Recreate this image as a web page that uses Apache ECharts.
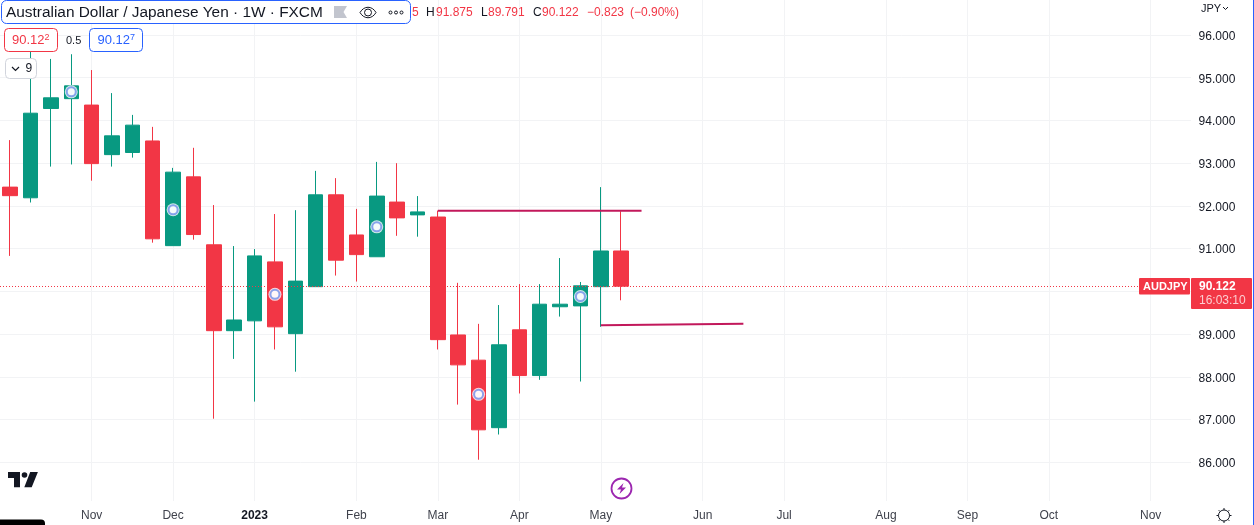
<!DOCTYPE html>
<html>
<head>
<meta charset="utf-8">
<style>
  html, body { margin: 0; padding: 0; background: #fff; }
  #chart { width: 1254px; height: 525px; }
</style>
<script src="https://cdn.jsdelivr.net/npm/echarts@6/dist/echarts.min.js"></script>
</head>
<body>
<div id="chart"></div>
<script>
// weekly bars, the empty weeks on the right are just axis room
const categories = [
  "2022-10-10", "2022-10-17", "2022-10-24", "2022-10-31", "2022-11-07", "2022-11-14", "2022-11-21", "2022-11-28",
  "2022-12-05", "2022-12-12", "2022-12-19", "2022-12-26", "2023-01-02", "2023-01-09", "2023-01-16", "2023-01-23",
  "2023-01-30", "2023-02-06", "2023-02-13", "2023-02-20", "2023-02-27", "2023-03-06", "2023-03-13", "2023-03-20",
  "2023-03-27", "2023-04-03", "2023-04-10", "2023-04-17", "2023-04-24", "2023-05-01", "2023-05-08", "2023-05-15",
  "2023-05-22", "2023-05-29", "2023-06-05", "2023-06-12", "2023-06-19", "2023-06-26", "2023-07-03", "2023-07-10",
  "2023-07-17", "2023-07-24", "2023-07-31", "2023-08-07", "2023-08-14", "2023-08-21", "2023-08-28", "2023-09-04",
  "2023-09-11", "2023-09-18", "2023-09-25", "2023-10-02", "2023-10-09", "2023-10-16", "2023-10-23", "2023-10-30",
  "2023-11-06", "2023-11-13", "2023-11-20"
];
const opens = [92.44, 92.19, 94.28, 94.51, 94.36, 93.20, 93.25, 93.52, 91.07, 92.68, 91.09, 89.08, 89.31, 90.69, 89.01, 90.11,
  92.26, 91.32, 90.81, 92.09, 91.79, 91.74, 88.98, 88.39, 86.81, 89.10, 88.03, 89.64, 89.66, 90.11, 90.945];
const closes = [92.24, 94.17, 94.53, 94.81, 92.99, 93.64, 93.89, 91.23, 92.79, 91.33, 89.08, 89.33, 90.83, 89.17, 90.24, 92.26,
  90.73, 90.86, 92.23, 91.72, 91.86, 88.87, 88.28, 86.76, 88.75, 88.03, 89.70, 89.70, 90.13, 90.945, 90.122];
const lows = [90.83, 92.08, 92.92, 92.97, 92.59, 92.92, 93.13, 91.14, 91.07, 91.21, 87.02, 88.42, 87.42, 88.64, 88.12, 90.11,
  90.37, 90.23, 90.81, 91.30, 91.28, 88.64, 87.35, 86.06, 86.65, 87.61, 87.93, 89.41, 87.89, 89.17, 89.791];
const highs = [93.54, 95.70, 95.44, 95.55, 95.18, 94.64, 94.13, 93.85, 92.89, 93.36, 92.02, 91.06, 90.99, 91.81, 91.90, 92.82,
  92.65, 91.93, 93.03, 93.00, 92.23, 91.89, 90.20, 89.24, 89.68, 90.17, 90.17, 90.78, 90.22, 92.44, 91.875];

const tickDates = ["2022-11-07", "2022-12-05", "2023-01-02", "2023-02-06", "2023-03-06", "2023-04-03", "2023-05-01",
  "2023-06-05", "2023-07-03", "2023-08-07", "2023-09-04", "2023-10-02", "2023-11-06"];
const tickNames = ["Nov", "Dec", "2023", "Feb", "Mar", "Apr", "May", "Jun", "Jul", "Aug", "Sep", "Oct", "Nov"];
const priceTicks = [86, 87, 88, 89, 90, 91, 92, 93, 94, 95, 96];

// blue ring markers sitting on every fifth bar
const ringDates = ["2022-10-31", "2022-12-05", "2023-01-09", "2023-02-13", "2023-03-20", "2023-04-24"];
const ringValues = [94.67, 91.91, 89.93, 91.51, 87.59, 89.88];

// the two hand drawn levels
const upperLevelDates = ["2023-03-06", "2023-05-15"];
const upperLevelValues = [91.888, 91.888];
const lowerLevelDates = ["2023-05-01", "2023-06-19"];
const lowerLevelValues = [89.21, 89.24];

const lastPrice = 90.122;

const GREEN = "#089981";
const RED = "#F23645";
const BLUE = "#2962FF";
const DARK = "#131722";
const GRID = "#F2F3F5";
const FONT = '"Liberation Sans", sans-serif';

const candles = opens.map((o, i) => [o, closes[i], lows[i], highs[i]]);
const zip = (xs, ys) => xs.map((x, i) => [x, ys[i]]);

const text = (x, y, str, fill, extra) => ({
  type: "text", z: 20, x, y,
  style: Object.assign({ text: str, fill, font: "12px " + FONT, textVerticalAlign: "middle" }, extra || {})
});
const box = (x, y, width, height, r, fill, stroke, z) => ({
  type: "rect", z: z || 20,
  shape: { x, y, width, height, r },
  style: { fill, stroke: stroke || null, lineWidth: 1 }
});
// the graphic component has no svg path type, so each icon gets its own shape
let iconCount = 0;
const rawPath = (d, stroke, fill, width) => {
  const name = "tvIcon" + iconCount++;
  echarts.graphic.registerShape(name, echarts.graphic.extendPath(d, {}));
  return { type: name, z: 20, style: { stroke: stroke || null, fill: fill || null, lineWidth: width || 1 } };
};

const overlay = [
  // hides the grid lines between the plot edge and the price scale
  box(1191, 0, 11, 501, 0, "#fff", null, 3),

  // header
  box(1.5, 0.5, 409, 23, 5, "#fff", BLUE),
  text(6, 12.5, "Australian Dollar / Japanese Yen · 1W · FXCM", DARK, { font: "15.4px " + FONT }),
  rawPath("M334 6H347L343.5 12L347 18H334Z", null, "#C2C5CE"),
  rawPath("M360 12.5C364 5.5 372 5.5 376 12.5C372 19.5 364 19.5 360 12.5ZM364.5 12.5A3.5 3.5 0 1 0 371.5 12.5A3.5 3.5 0 1 0 364.5 12.5Z", DARK, null, 1),
  rawPath("M389 12.5a1.5 1.5 0 1 0 3 0a1.5 1.5 0 1 0 -3 0M394.5 12.5a1.5 1.5 0 1 0 3 0a1.5 1.5 0 1 0 -3 0M400 12.5a1.5 1.5 0 1 0 3 0a1.5 1.5 0 1 0 -3 0", DARK, null, 1),
  text(412, 13, "5", RED),
  text(426, 13, "H", DARK),
  text(436, 13, "91.875", RED),
  text(481, 13, "L", DARK),
  text(488, 13, "89.791", RED),
  text(533, 13, "C", DARK),
  text(542, 13, "90.122", RED),
  text(587, 13, "−0.823", RED),
  text(630, 13, "(−0.90%)", RED),

  // bid / ask
  box(4.5, 28.5, 53, 23, 4, "#fff", RED),
  text(12, 40.5, "90.12", RED, { font: "13px " + FONT }),
  text(44.5, 38, "2", RED, { font: "9px " + FONT }),
  text(66, 40.5, "0.5", DARK, { font: "11px " + FONT }),
  box(89.5, 28.5, 53, 23, 4, "#fff", BLUE),
  text(97.5, 40.5, "90.12", BLUE, { font: "13px " + FONT }),
  text(130, 38, "7", BLUE, { font: "9px " + FONT }),

  // collapsed indicators
  box(5.5, 58.5, 31, 20, 4, "#fff", "#D1D4DC"),
  rawPath("M12 67L15.5 70.5L19 67", DARK, null, 1.2),
  text(25.5, 69, "9", DARK),

  // price scale bits
  text(1201, 8.5, "JPY", DARK, { font: "11px " + FONT }),
  rawPath("M1223 7L1225.5 9.5L1228 7", DARK, null, 1),

  // last price tags
  box(1139, 278, 51, 16.5, 1, RED),
  text(1143, 286.5, "AUDJPY", "#fff", { font: "bold 11px " + FONT }),
  box(1191, 278, 61, 31, 1, RED),
  text(1199, 286.5, "90.122", "#fff", { font: "bold 12px " + FONT }),
  text(1199, 301, "16:03:10", "rgba(255,255,255,0.75)"),

  // logo and the bottom left bar
  rawPath("M8 472H20V487.2H14V478H8ZM24.3 487.2H31.7L37.9 472H30.2Z", null, DARK),
  rawPath("M21.7 475a2.8 2.8 0 1 0 5.6 0a2.8 2.8 0 1 0 -5.6 0Z", null, DARK),
  rawPath("M0 525V519.5H41Q45 519.5 45 523.5V525Z", null, "#000"),

  // earnings bolt
  rawPath("M611.5 488.5a10 10 0 1 0 20 0a10 10 0 1 0 -20 0Z", "#9C27B0", "#fff", 1.8),
  rawPath("M623.5 483L617 489.5H621L619.5 494L626 487.5H622Z", null, "#9C27B0"),

  // settings gear
  rawPath("M1218.5 515.5a5.5 5.5 0 1 0 11 0a5.5 5.5 0 1 0 -11 0ZM1224 508V510M1224 521V523M1216.5 515.5H1218.5M1229.5 515.5H1231.5M1218.7 510.2L1220.1 511.6M1227.9 519.4L1229.3 520.8M1229.3 510.2L1227.9 511.6M1220.1 519.4L1218.7 520.8", DARK, null, 1),

  // selection edge on the right of the screenshot
  box(1253, 0, 1, 525, 0, BLUE)
];

const yBounds = { min: 85.094, max: 96.819 };

const chart = echarts.init(document.getElementById("chart"), null, { renderer: "canvas" });
chart.setOption({
  animation: false,
  backgroundColor: "#fff",
  grid: { left: -0.4, right: 52.4, top: 0, bottom: 24 },
  xAxis: {
    type: "category",
    data: categories,
    axisLine: { show: false },
    axisTick: { show: false },
    splitLine: {
      show: true,
      alignWithLabel: true,
      interval: (i, v) => tickDates.includes(v),
      lineStyle: { color: GRID, width: 1 }
    },
    axisLabel: {
      interval: (i, v) => tickDates.includes(v),
      hideOverlap: false,
      margin: 9,
      color: "#3f424c",
      fontFamily: FONT,
      fontSize: 12,
      formatter: v => {
        const name = tickNames[tickDates.indexOf(v)];
        return name === "2023" ? "{year|" + name + "}" : name;
      },
      rich: { year: { fontWeight: "bold", color: DARK, fontFamily: FONT, fontSize: 12 } }
    }
  },
  yAxis: [
    {
      type: "value",
      position: "right",
      min: yBounds.min,
      max: yBounds.max,
      axisLine: { show: false },
      axisTick: { show: false, customValues: priceTicks },
      axisLabel: { show: false },
      splitLine: { show: true, lineStyle: { color: GRID, width: 1 } }
    },
    {
      type: "value",
      position: "right",
      z: 6,
      min: yBounds.min,
      max: yBounds.max,
      axisLine: { show: false },
      axisTick: { show: false },
      splitLine: { show: false },
      axisLabel: {
        customValues: priceTicks,
        margin: -3,
        formatter: v => "{p|" + v.toFixed(3) + "}",
        // nudges the numbers down onto their grid lines
        rich: { p: { color: DARK, fontFamily: FONT, fontSize: 12, padding: [3, 0, 0, 0] } }
      }
    }
  ],
  series: [
    {
      name: "AUDJPY",
      type: "candlestick",
      data: candles,
      z: 2,
      barWidth: 15,
      itemStyle: { color: GREEN, color0: RED, borderColor: GREEN, borderColor0: RED, borderWidth: 1 },
      markLine: {
        silent: true,
        symbol: "none",
        label: { show: false },
        lineStyle: { color: RED, type: [1, 2], width: 1 },
        data: [{ yAxis: lastPrice }]
      }
    },
    {
      type: "scatter",
      z: 3,
      symbolSize: 13,
      itemStyle: { color: "#fff" },
      data: zip(ringDates, ringValues)
    },
    {
      type: "scatter",
      z: 4,
      symbolSize: 9,
      itemStyle: { color: "#fff", borderColor: "#6F8FEA", borderWidth: 2 },
      data: zip(ringDates, ringValues)
    },
    {
      type: "line",
      z: 5,
      showSymbol: false,
      lineStyle: { color: "#C2185B", width: 2 },
      data: zip(upperLevelDates, upperLevelValues)
    },
    {
      type: "line",
      z: 5,
      showSymbol: false,
      lineStyle: { color: "#C2185B", width: 2 },
      data: zip(lowerLevelDates, lowerLevelValues)
    }
  ],
  graphic: { elements: overlay }
});
</script>
</body>
</html>
